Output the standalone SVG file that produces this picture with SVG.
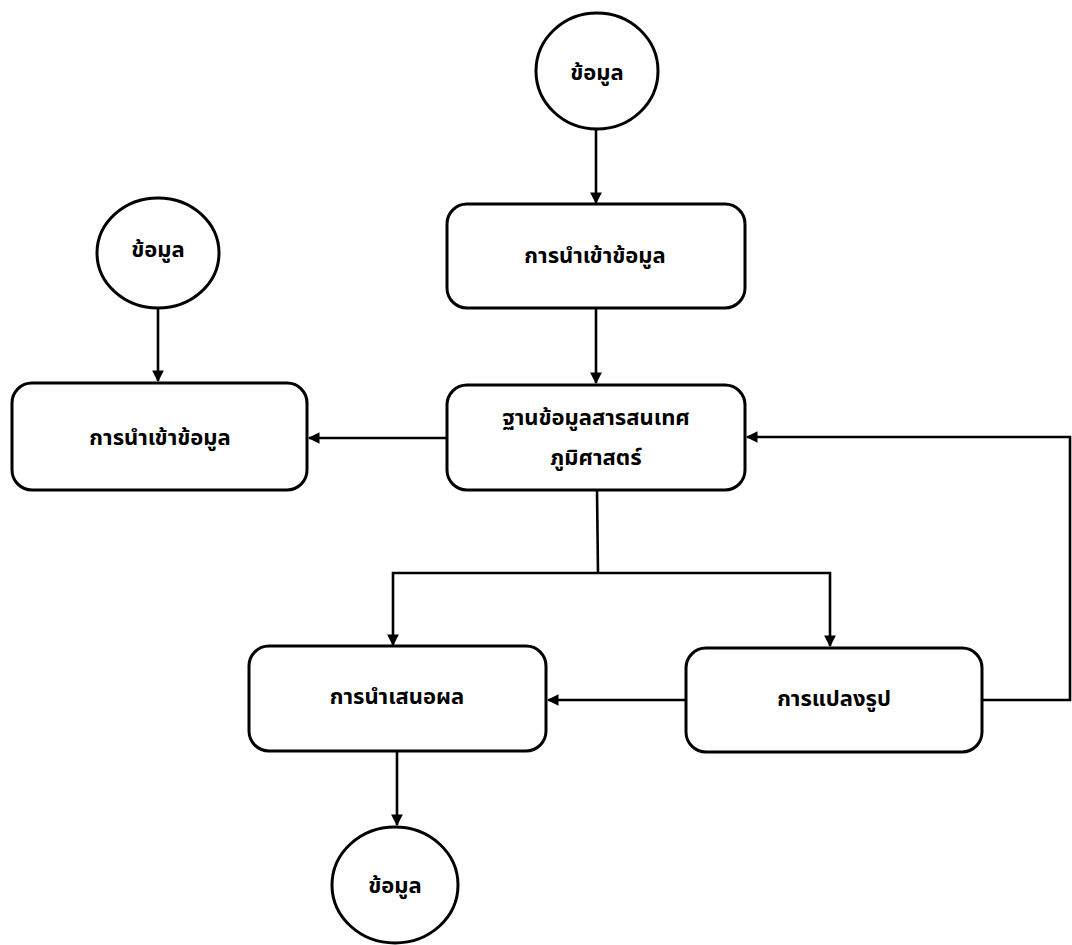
<svg xmlns="http://www.w3.org/2000/svg" width="1072" height="945" viewBox="0 0 1072 945">
<style>
.n{fill:#fff;stroke:#000;stroke-width:3}
.t{font-family:"Noto Sans Thai","Noto Sans","DejaVu Sans",sans-serif;font-size:22px;font-weight:bold;fill:#000;text-anchor:middle;dominant-baseline:central}
.c{fill:none;stroke:#000;stroke-width:2.6}
</style>
<defs>
<marker id="a" viewBox="0 0 10 10" refX="9" refY="5" markerWidth="4.5" markerHeight="4.5" orient="auto" markerUnits="strokeWidth">
<path d="M0,0 L10,5 L0,10 z" fill="#000"/>
</marker>
</defs>
<rect width="1072" height="945" fill="#fff"/>
<g id="connectors">
<line class="c" x1="596" y1="129" x2="596" y2="203" marker-end="url(#a)"/>
<line class="c" x1="596" y1="308" x2="596" y2="383" marker-end="url(#a)"/>
<line class="c" x1="158" y1="308" x2="158" y2="381" marker-end="url(#a)"/>
<line class="c" x1="447" y1="438" x2="309" y2="438" marker-end="url(#a)"/>
<polyline class="c" points="597,490 598,573"/>
<polyline class="c" points="598,573 393,573 393,645" marker-end="url(#a)"/>
<polyline class="c" points="598,573 830,573 830,646" marker-end="url(#a)"/>
<line class="c" x1="686" y1="700" x2="548" y2="700" marker-end="url(#a)"/>
<polyline class="c" points="982,700 1070,700 1070,437 747,437" marker-end="url(#a)"/>
<line class="c" x1="397" y1="751" x2="397" y2="825" marker-end="url(#a)"/>
</g>
<g id="n1"><ellipse class="n" cx="597" cy="71" rx="61" ry="58"/><text class="t" x="597" y="73">ข้อมูล</text></g>
<g id="n2"><rect class="n" x="447" y="204" width="298" height="104" rx="20"/><text class="t" x="595" y="256">การนำเข้าข้อมูล</text></g>
<g id="n3"><ellipse class="n" cx="158" cy="253" rx="61" ry="55"/><text class="t" x="158" y="250">ข้อมูล</text></g>
<g id="n4"><rect class="n" x="12" y="383" width="295" height="107" rx="20"/><text class="t" x="160" y="438">การนำเข้าข้อมูล</text></g>
<g id="n5"><rect class="n" x="447" y="385" width="298" height="105" rx="20"/><text class="t" x="596" y="418">ฐานข้อมูลสารสนเทศ</text><text class="t" x="596" y="458">ภูมิศาสตร์</text></g>
<g id="n6"><rect class="n" x="249" y="646" width="297" height="105" rx="20"/><text class="t" x="397" y="697">การนำเสนอผล</text></g>
<g id="n7"><rect class="n" x="686" y="648" width="296" height="104" rx="20"/><text class="t" x="834" y="699">การแปลงรูป</text></g>
<g id="n8"><ellipse class="n" cx="395" cy="885" rx="63" ry="58"/><text class="t" x="395" y="886">ข้อมูล</text></g>
</svg>
